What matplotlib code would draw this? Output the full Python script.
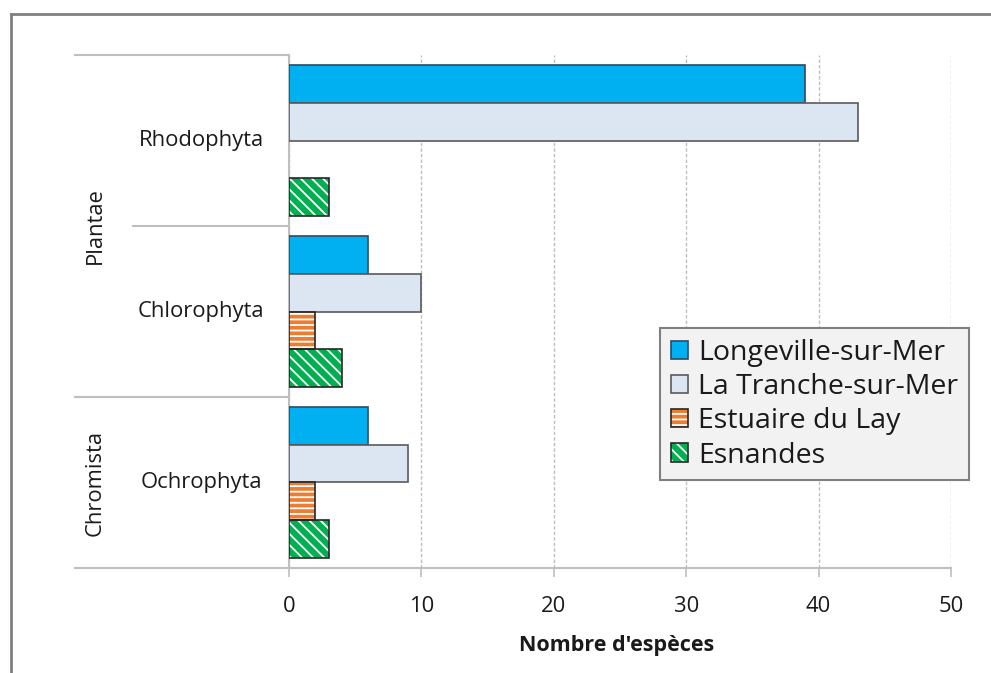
import matplotlib
matplotlib.use('Agg')
import matplotlib.pyplot as plt
import numpy as np
from matplotlib.patches import Patch
from matplotlib.lines import Line2D
import matplotlib.transforms as mtransforms

# ---- data ----
categories = ['Rhodophyta', 'Chlorophyta', 'Ochrophyta']
groups = ['Plantae', 'Chromista']
group_members = [[0, 1], [2]]
series = ['Longeville-sur-Mer', 'La Tranche-sur-Mer', 'Estuaire du Lay', 'Esnandes']
longeville = [39, 6, 6]
la_tranche = [43, 10, 9]
estuaire = [0, 2, 2]
esnandes = [3, 4, 3]
xticks = [0, 10, 20, 30, 40, 50]
xlabel = "Nombre d'espèces"

values = [longeville, la_tranche, estuaire, esnandes]

plt.rcParams['font.family'] = ['Open Sans', 'DejaVu Sans']
plt.rcParams['hatch.linewidth'] = 1.3

W, H = 991, 673
fig = plt.figure(figsize=(W / 100, H / 100), dpi=100)
fig.patch.set_facecolor('white')
ax = fig.add_axes([289 / W, 1 - 568 / H, 662 / W, 513 / H])

styles = [
    dict(face='#00B0F0', edge='#2E4A62', hatch=None),
    dict(face='#DCE6F2', edge='#5A5A5A', hatch=None),
    dict(face='#ED7D31', edge='#262626', hatch='---'),
    dict(face='#00B050', edge='#262626', hatch='\\\\\\'),
]

bar_h = 0.22
y = np.arange(len(categories))
for j, (vals, st) in enumerate(zip(values, styles)):
    pos = y + (j - 1.5) * bar_h
    edges = [st['edge'] if v > 0 else 'none' for v in vals]
    if st['hatch']:
        ax.barh(pos, vals, height=bar_h, color=st['face'], edgecolor='white',
                hatch=st['hatch'], linewidth=0, zorder=3)
        ax.barh(pos, vals, height=bar_h, facecolor='none', edgecolor=edges,
                linewidth=1.2, zorder=4)
    else:
        ax.barh(pos, vals, height=bar_h, color=st['face'], edgecolor=edges,
                linewidth=1.2, zorder=3)

ax.set_xlim(0, 50)
ax.set_ylim(len(categories) - 0.5, -0.5)
ax.set_xticks(xticks)
ax.set_yticks([])
ax.set_axisbelow(True)
ax.xaxis.grid(True, color='#BFBFBF', linestyle=(0, (2.5, 1.5)), linewidth=1)
for s in ['top', 'right']:
    ax.spines[s].set_visible(False)
ax.spines['left'].set_color('#BFBFBF')
ax.spines['left'].set_linewidth(1.5)
ax.spines['bottom'].set_color('#BFBFBF')
ax.spines['bottom'].set_linewidth(1.5)
ax.tick_params(axis='x', length=6.5, width=1.2, color='#BFBFBF', pad=14,
               labelsize=15.8, labelcolor='#1a1a1a')

trans = mtransforms.blended_transform_factory(ax.transAxes, ax.transData)
lx_long = (75 - 289) / 662
lx_short = (133 - 289) / 662
sep_col = '#BFBFBF'
for g in group_members:
    top = g[0] - 0.5
    bot = g[-1] + 0.5
    ax.plot([lx_long, 0], [top, top], transform=trans, clip_on=False, color=sep_col, lw=1.5)
    ax.plot([lx_long, 0], [bot, bot], transform=trans, clip_on=False, color=sep_col, lw=1.5)
    for k in g[:-1]:
        ax.plot([lx_short, 0], [k + 0.5, k + 0.5], transform=trans, clip_on=False,
                color=sep_col, lw=1.5)

for i, c in enumerate(categories):
    ax.text((201 - 289) / 662, i, c, transform=trans, ha='center', va='center',
            fontsize=15.8, color='#1a1a1a')
for gname, g in zip(groups, group_members):
    ax.text((95 - 289) / 662, np.mean(g), gname, transform=trans, ha='center',
            va='center', rotation=90, fontsize=15.8, color='#1a1a1a')

fig.text(616.5 / W, 1 - 645 / H, xlabel, ha='center', va='center',
         fontsize=15.5, fontweight='bold', color='#1a1a1a')

# legend
handles = []
for st in styles:
    if st['hatch']:
        handles.append((Patch(facecolor=st['face'], edgecolor='white', hatch=st['hatch'], lw=0),
                        Patch(facecolor='none', edgecolor=st['edge'], lw=1.2)))
    else:
        handles.append(Patch(facecolor=st['face'], edgecolor=st['edge'], lw=1.2))
leg = ax.legend(handles, series, loc='upper left', bbox_to_anchor=(0.5604, 0.468),
                borderaxespad=0, fontsize=20.5, frameon=True, fancybox=False,
                edgecolor='#808080', facecolor='#F2F2F2', framealpha=1,
                handlelength=0.6, handleheight=0.6, handletextpad=0.35,
                labelspacing=0.22, borderpad=0.38)
leg.get_frame().set_linewidth(1.5)
for t in leg.get_texts():
    t.set_color('#1a1a1a')

# outer frame
fig.add_artist(Line2D([11 / W, 11 / W], [0, 1 - 14 / H], transform=fig.transFigure,
                      color='#808080', lw=2))
fig.add_artist(Line2D([11 / W, 1], [1 - 14 / H, 1 - 14 / H], transform=fig.transFigure,
                      color='#808080', lw=2))

fig.savefig('out.png', dpi=100)
